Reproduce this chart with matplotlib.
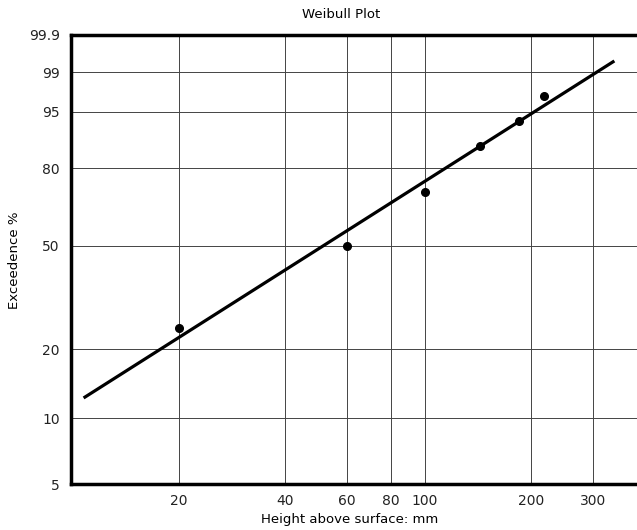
import numpy as np
import matplotlib
matplotlib.use('Agg')
import matplotlib.pyplot as plt

# measured points (height mm, exceedence %)
heights = [20, 60, 100, 143, 185, 218]
exceed = [24.5, 50.0, 71.0, 87.3, 93.3, 97.1]

# fitted line end points
fit_x = [10.75, 345]
fit_y = [12.3, 99.45]

x_ticks = [20, 40, 60, 80, 100, 200, 300]
y_ticks = [5, 10, 20, 50, 80, 95, 99, 99.9]
y_labels = ['5', '10', '20', '50', '80', '95', '99', '99.9']


def weibull(p):
    p = np.asarray(p, dtype=float)
    with np.errstate(all='ignore'):
        q = np.clip(p / 100.0, 1e-12, 1 - 1e-12)
        return np.log(-np.log(1 - q))


def weibull_inv(w):
    w = np.asarray(w, dtype=float)
    with np.errstate(all='ignore'):
        return 100.0 * (1 - np.exp(-np.exp(w)))


plt.rcParams['font.family'] = 'DejaVu Sans'
fig = plt.figure(figsize=(6.37, 5.30), dpi=100)
ax = fig.add_axes([71 / 637, 1 - 484 / 530, 1 - 71 / 637, (484 - 35) / 530])

ax.set_xscale('log')
ax.set_yscale('function', functions=(weibull, weibull_inv))
ax.set_xlim(9.9, 400)
ax.set_ylim(5, 99.9)

ax.set_xticks(x_ticks)
ax.set_xticklabels([str(v) for v in x_ticks])
ax.xaxis.set_minor_locator(matplotlib.ticker.NullLocator())
ax.set_yticks(y_ticks)
ax.set_yticklabels(y_labels)
ax.yaxis.set_minor_locator(matplotlib.ticker.NullLocator())

ax.grid(True, color='#444444', linewidth=0.7)
ax.tick_params(axis='both', length=0, labelsize=10, colors='#222222')
ax.tick_params(axis='x', pad=7)
ax.tick_params(axis='y', pad=8)

for side in ['left', 'top', 'bottom']:
    ax.spines[side].set_linewidth(2.5)
ax.spines['right'].set_visible(False)

ax.plot(fit_x, fit_y, color='black', linewidth=2.3, solid_capstyle='butt')
ax.plot(heights, exceed, 'o', color='black', markersize=5.5)

fig.text(341 / 637, 1 - 15 / 530, 'Weibull Plot', ha='center', va='center', fontsize=9.5)
fig.text(350 / 637, 1 - 520 / 530, 'Height above surface: mm', ha='center', va='center', fontsize=9.5)
fig.text(15 / 637, 1 - 260 / 530, 'Exceedence %', ha='center', va='center', rotation=90, fontsize=9.5)

fig.savefig('out.png', dpi=100)
